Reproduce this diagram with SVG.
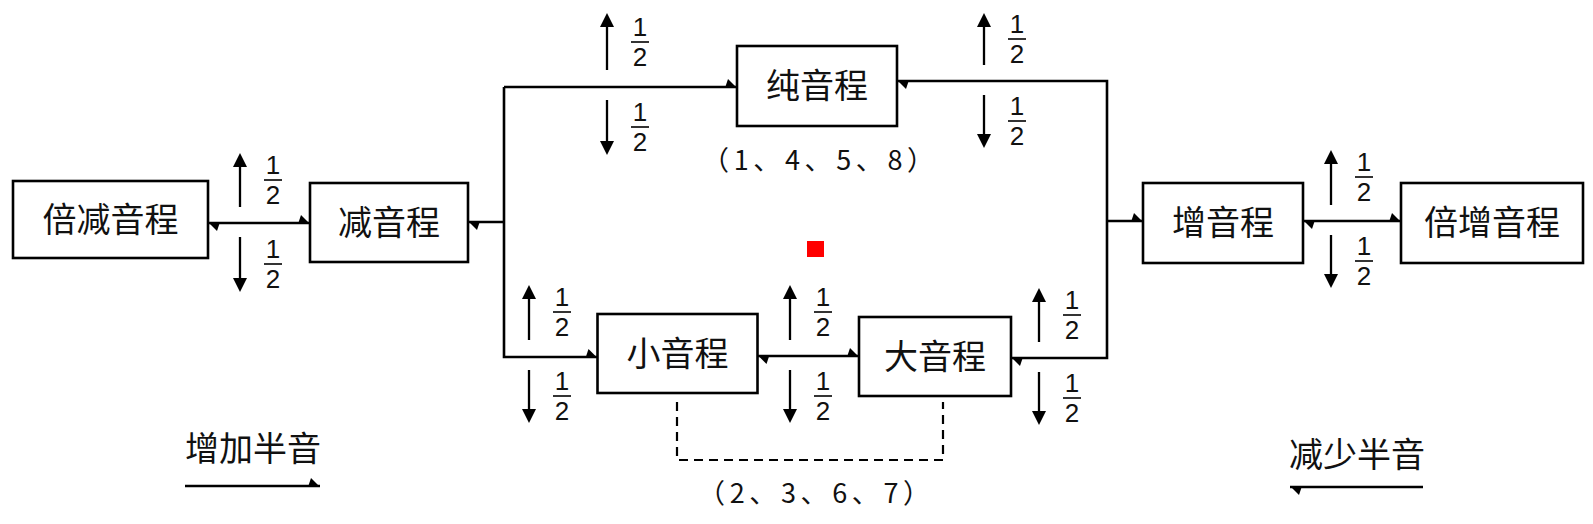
<svg xmlns="http://www.w3.org/2000/svg" width="1593" height="524" viewBox="0 0 1593 524">
<style>
.box{fill:#fff;stroke:#000;stroke-width:2.6}
.t{font-family:"Noto Sans CJK SC","Noto Sans CJK JP",sans-serif;font-size:34px;text-anchor:middle;fill:#111}
.s{font-family:"Noto Sans CJK SC","Noto Sans CJK JP",sans-serif;font-size:27px;fill:#111}
.f{font-family:"Liberation Sans",sans-serif;font-size:26px;text-anchor:middle;fill:#111}
.c{fill:none;stroke:#000;stroke-width:2.6}
.h{marker-end:url(#half)}
.hh{marker-start:url(#half);marker-end:url(#half)}
.v{stroke:#000;stroke-width:2.3;marker-end:url(#arr)}
.bar{stroke:#000;stroke-width:1.6}
.d{fill:none;stroke:#000;stroke-width:2.2;stroke-dasharray:9 6}
</style>
<defs>
<marker id="half" viewBox="-14 -10 16 12" refX="0" refY="0" markerWidth="16" markerHeight="12" orient="auto-start-reverse" markerUnits="userSpaceOnUse"><path d="M0,1 L-12,1 L-9,-8 Z" fill="#000"/></marker>
<marker id="arr" viewBox="-12 -9 20 18" refX="0" refY="0" markerWidth="20" markerHeight="18" orient="auto" markerUnits="userSpaceOnUse"><path d="M6,0 L-8,-7 L-8,7 Z" fill="#000"/></marker>
</defs>
<rect width="1593" height="524" fill="#fff"/>
<g id="connectors">
<path class="c hh" d="M208,223 H310"/>
<path class="c h" d="M504,222 H468"/>
<path class="c h" d="M504,87 H737"/>
<path class="c h" d="M504,87 V357 H597.5"/>
<path class="c hh" d="M757.5,356 H859"/>
<path class="c hh" d="M897,81 H1107 V358 H1011"/>
<path class="c h" d="M1107,221 H1143"/>
<path class="c hh" d="M1303,221 H1401"/>
<path class="d" d="M677,402 V460 H943 V402"/>
<path class="c h" d="M185,486 H320"/>
<path class="c h" d="M1423,487 H1290"/>
</g>
<g id="steps">
<line class="v" x1="240" y1="207" x2="240" y2="159"/><line class="v" x1="240" y1="237" x2="240" y2="286"/>
<line class="v" x1="607" y1="70" x2="607" y2="19"/><line class="v" x1="607" y1="100" x2="607" y2="149"/>
<line class="v" x1="984" y1="65" x2="984" y2="19"/><line class="v" x1="984" y1="95" x2="984" y2="142"/>
<line class="v" x1="1331" y1="205" x2="1331" y2="156"/><line class="v" x1="1331" y1="235" x2="1331" y2="282"/>
<line class="v" x1="529" y1="340" x2="529" y2="291"/><line class="v" x1="529" y1="370" x2="529" y2="417"/>
<line class="v" x1="790" y1="340" x2="790" y2="291"/><line class="v" x1="790" y1="370" x2="790" y2="417"/>
<line class="v" x1="1039" y1="342" x2="1039" y2="294"/><line class="v" x1="1039" y1="372" x2="1039" y2="419"/>
</g>
<g id="fractions">
<text class="f" x="273" y="174">1</text><line class="bar" x1="264" y1="180" x2="282" y2="180"/><text class="f" x="273" y="204">2</text>
<text class="f" x="273" y="258">1</text><line class="bar" x1="264" y1="264" x2="282" y2="264"/><text class="f" x="273" y="288">2</text>
<text class="f" x="640" y="36">1</text><line class="bar" x1="631" y1="42" x2="649" y2="42"/><text class="f" x="640" y="66">2</text>
<text class="f" x="640" y="121">1</text><line class="bar" x1="631" y1="127" x2="649" y2="127"/><text class="f" x="640" y="151">2</text>
<text class="f" x="1017" y="33">1</text><line class="bar" x1="1008" y1="39" x2="1026" y2="39"/><text class="f" x="1017" y="63">2</text>
<text class="f" x="1017" y="115">1</text><line class="bar" x1="1008" y1="121" x2="1026" y2="121"/><text class="f" x="1017" y="145">2</text>
<text class="f" x="1364" y="171">1</text><line class="bar" x1="1355" y1="177" x2="1373" y2="177"/><text class="f" x="1364" y="201">2</text>
<text class="f" x="1364" y="255">1</text><line class="bar" x1="1355" y1="261" x2="1373" y2="261"/><text class="f" x="1364" y="285">2</text>
<text class="f" x="562" y="306">1</text><line class="bar" x1="553" y1="312" x2="571" y2="312"/><text class="f" x="562" y="336">2</text>
<text class="f" x="562" y="390">1</text><line class="bar" x1="553" y1="396" x2="571" y2="396"/><text class="f" x="562" y="420">2</text>
<text class="f" x="823" y="306">1</text><line class="bar" x1="814" y1="312" x2="832" y2="312"/><text class="f" x="823" y="336">2</text>
<text class="f" x="823" y="390">1</text><line class="bar" x1="814" y1="396" x2="832" y2="396"/><text class="f" x="823" y="420">2</text>
<text class="f" x="1072" y="309">1</text><line class="bar" x1="1063" y1="315" x2="1081" y2="315"/><text class="f" x="1072" y="339">2</text>
<text class="f" x="1072" y="392">1</text><line class="bar" x1="1063" y1="398" x2="1081" y2="398"/><text class="f" x="1072" y="422">2</text>
</g>
<g id="n-beijian"><rect class="box" x="13" y="181" width="195" height="77"/><text class="t" x="110.5" y="231.5">倍减音程</text></g>
<g id="n-jian"><rect class="box" x="310" y="183" width="158" height="79"/><text class="t" x="389" y="234.5">减音程</text></g>
<g id="n-chun"><rect class="box" x="737" y="46" width="160" height="80"/><text class="t" x="817" y="98">纯音程</text></g>
<g id="n-xiao"><rect class="box" x="597.5" y="314" width="160" height="79"/><text class="t" x="677.5" y="365.5">小音程</text></g>
<g id="n-da"><rect class="box" x="859" y="317" width="152" height="79"/><text class="t" x="935" y="368.5">大音程</text></g>
<g id="n-zeng"><rect class="box" x="1143" y="183" width="160" height="80"/><text class="t" x="1223" y="235">增音程</text></g>
<g id="n-beizeng"><rect class="box" x="1401" y="183" width="182" height="80"/><text class="t" x="1492" y="235">倍增音程</text></g>
<g id="labels">
<text class="s" x="818" y="170" text-anchor="middle" textLength="232" lengthAdjust="spacing">（1、4、5、8）</text>
<text class="s" x="814" y="503" text-anchor="middle" textLength="232" lengthAdjust="spacing">（2、3、6、7）</text>
<text class="t" x="253" y="461">增加半音</text>
<text class="t" x="1357" y="467">减少半音</text>
</g>
<rect x="807" y="241" width="17" height="16" fill="#f00"/>
</svg>
